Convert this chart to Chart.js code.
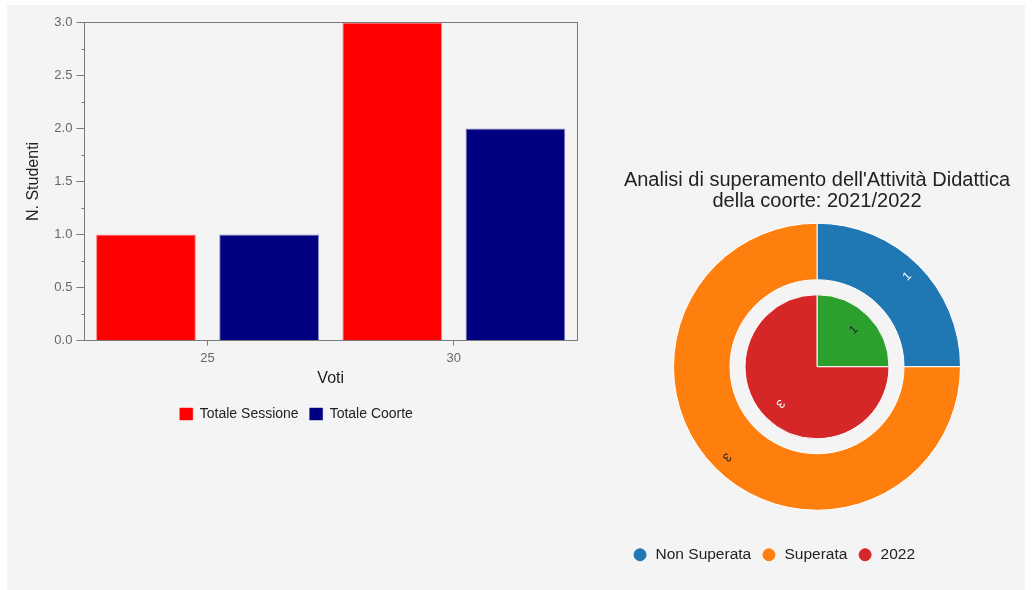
<!DOCTYPE html>
<html lang="it">
<head>
<meta charset="UTF-8">
<title>Voti e superamento attività didattica</title>
<script src="https://cdn.jsdelivr.net/npm/chart.js@4.4.0"></script>
<style>
    body { margin: 0; background: #fff; font-family: 'Liberation Sans', Arial, sans-serif; }
    #panel { position: absolute; left: 7px; top: 5px; width: 1018px; height: 585px; background: #f4f4f4; }
    #barChart { position: absolute; left: 7px; top: 5px; }
    #pieChart { position: absolute; left: 602px; top: 150px; }
</style>
</head>
<body>
<div id="panel"></div>
<canvas id="barChart" width="600" height="430"></canvas>
<canvas id="pieChart" width="430" height="440"></canvas>
<script>
    // bar chart data
    const voti = ['25', '30'];
    const totaleSessione = [1, 3];
    const totaleCoorte = [1, 2];

    // nested pie data
    const esitiLabels = ['Non Superata', 'Superata', '2022'];
    const esitiCoorte = [1, 3];      // outer ring
    const esiti2022 = [1, 3];        // inner pie
    const coloriCoorte = ['#1f77b4', '#ff7f0e', '#d62728'];
    const colori2022 = ['#2ca02c', '#d62728'];

    Chart.defaults.font.family = "'Liberation Sans', Arial, sans-serif";
    const axisColor = '#7a7a7a';

    // frame around the plot area (top/right lines like the original)
    const plotFrame = {
        id: 'plotFrame',
        beforeDatasetsDraw(chart) {
            const { ctx, chartArea: a } = chart;
            ctx.save();
            ctx.strokeStyle = axisColor;
            ctx.lineWidth = 1;
            ctx.strokeRect(Math.round(a.left) + 0.5, Math.round(a.top) + 0.5,
                Math.round(a.right - a.left), Math.round(a.bottom - a.top));
            ctx.restore();
        }
    };

    // short minor ticks between the labelled y ticks
    const minorTicks = {
        id: 'minorTicks',
        afterDraw(chart) {
            const y = chart.scales.y;
            const ctx = chart.ctx;
            ctx.save();
            ctx.strokeStyle = axisColor;
            ctx.lineWidth = 1;
            for (let i = 0; i < y.ticks.length - 1; i++) {
                const mid = (y.ticks[i].value + y.ticks[i + 1].value) / 2;
                const py = Math.round(y.getPixelForValue(mid)) + 0.5;
                ctx.beginPath();
                ctx.moveTo(y.right - 3, py);
                ctx.lineTo(y.right, py);
                ctx.stroke();
            }
            ctx.restore();
        }
    };

    new Chart(document.getElementById('barChart'), {
        type: 'bar',
        data: {
            labels: voti,
            datasets: [{
                label: 'Totale Sessione',
                data: totaleSessione,
                backgroundColor: '#ff0000',
                borderColor: 'rgba(255, 0, 0, 0.45)',
                borderWidth: 1,
                categoryPercentage: 1.0,
                barPercentage: 0.81
            }, {
                label: 'Totale Coorte',
                data: totaleCoorte,
                backgroundColor: '#000080',
                borderColor: 'rgba(0, 0, 128, 0.45)',
                borderWidth: 1,
                categoryPercentage: 1.0,
                barPercentage: 0.81
            }]
        },
        options: {
            responsive: false,
            animation: false,
            layout: { padding: { left: 8.7, top: 17.4, right: 30, bottom: 4 } },
            scales: {
                x: {
                    grid: { drawOnChartArea: false, offset: false, tickLength: 5, color: axisColor },
                    border: { color: axisColor },
                    ticks: { color: '#666', font: { size: 13 }, padding: 5.6 },
                    title: { display: true, text: 'Voti', color: '#222', font: { size: 16 }, padding: { top: -3, bottom: 7.5 } }
                },
                y: {
                    min: 0,
                    max: 3,
                    grid: { drawOnChartArea: false, tickLength: 8, color: axisColor },
                    border: { color: axisColor },
                    ticks: { stepSize: 0.5, color: '#666', font: { size: 13 }, padding: 4, callback: v => v.toFixed(1) },
                    title: { display: true, text: 'N. Studenti', color: '#222', font: { size: 16 }, padding: { top: 8, bottom: 7.4 } }
                }
            },
            plugins: {
                legend: {
                    position: 'bottom',
                    labels: { boxWidth: 13, boxHeight: 12, padding: 11, color: '#222', font: { size: 14 } }
                },
                tooltip: { enabled: false }
            }
        },
        plugins: [plotFrame, minorTicks]
    });

    // value labels rotated along each slice
    function textColor(hex) {
        const r = parseInt(hex.substr(1, 2), 16), g = parseInt(hex.substr(3, 2), 16), b = parseInt(hex.substr(5, 2), 16);
        return (r * 299 + g * 587 + b * 114) / 1000 > 105 ? '#222' : '#fff';
    }
    const arcValues = {
        id: 'arcValues',
        afterDatasetsDraw(chart) {
            const ctx = chart.ctx;
            chart.data.datasets.forEach((ds, di) => {
                if (ds.showValues === false) return;
                chart.getDatasetMeta(di).data.forEach((arc, i) => {
                    const v = ds.data[i];
                    if (!v) return;
                    const p = arc.getProps(['x', 'y', 'startAngle', 'endAngle', 'innerRadius', 'outerRadius'], true);
                    const mid = (p.startAngle + p.endAngle) / 2;
                    const r = p.innerRadius + (p.outerRadius - p.innerRadius) * 0.72;
                    ctx.save();
                    ctx.translate(p.x + Math.cos(mid) * r, p.y + Math.sin(mid) * r);
                    ctx.rotate(mid);
                    ctx.font = "12px 'Liberation Sans', Arial, sans-serif";
                    ctx.textAlign = 'center';
                    ctx.textBaseline = 'middle';
                    ctx.fillStyle = textColor(ds.backgroundColor[i]);
                    ctx.fillText(String(v), 0, 0);
                    ctx.restore();
                });
            });
        }
    };

    const pieLegendLabels = Chart.controllers.pie.overrides.plugins.legend.labels.generateLabels;

    new Chart(document.getElementById('pieChart'), {
        type: 'pie',
        data: {
            labels: esitiLabels,
            datasets: [{
                label: 'Coorte',
                data: esitiCoorte,
                backgroundColor: coloriCoorte,
                borderColor: '#fff',
                borderWidth: 1,
                weight: 56.5
            }, {
                // empty ring between the two levels
                label: 'gap',
                data: [1],
                backgroundColor: 'rgba(0, 0, 0, 0)',
                borderWidth: 0,
                weight: 15,
                showValues: false
            }, {
                label: '2022',
                data: esiti2022,
                backgroundColor: colori2022,
                borderColor: '#fff',
                borderWidth: 1,
                weight: 72
            }]
        },
        options: {
            responsive: false,
            animation: false,
            radius: 143.5,
            layout: { padding: { left: 20.3, right: 20.3, bottom: 17.5 } },
            plugins: {
                title: {
                    display: true,
                    text: ["Analisi di superamento dell'Attività Didattica", 'della coorte: 2021/2022'],
                    color: '#222',
                    font: { size: 20, weight: 'normal', lineHeight: 1.05 },
                    padding: { top: 20.2, bottom: -15.7 }
                },
                legend: {
                    position: 'bottom',
                    align: 'start',
                    labels: {
                        usePointStyle: true,
                        pointStyle: 'circle',
                        boxWidth: 16,
                        boxHeight: 8.5,
                        padding: 10,
                        color: '#222',
                        font: { size: 15.5 },
                        generateLabels(chart) {
                            return pieLegendLabels(chart).map((item, i) => Object.assign(item, {
                                fillStyle: coloriCoorte[i],
                                strokeStyle: coloriCoorte[i]
                            }));
                        }
                    }
                },
                tooltip: { enabled: false }
            }
        },
        plugins: [arcValues]
    });
</script>
</body>
</html>
